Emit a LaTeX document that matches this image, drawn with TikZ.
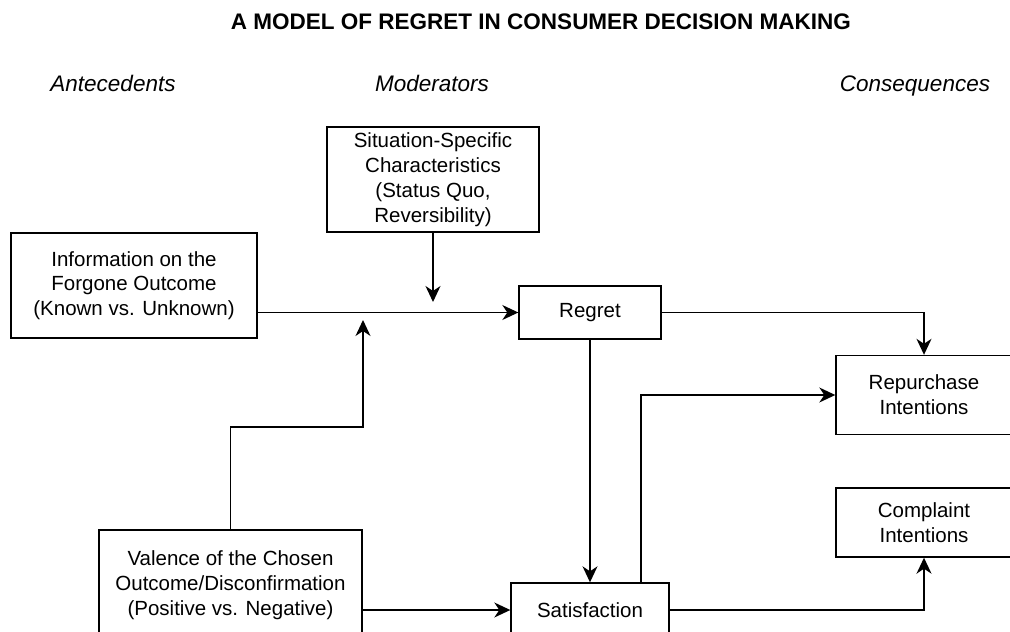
\documentclass[tikz,border=0pt]{standalone}
\usepackage{fontspec}
\setmainfont{Liberation Sans}
\usetikzlibrary{arrows.meta}
\begin{document}
\begin{tikzpicture}[x=1pt,y=-1pt,
  box/.style={draw, line width=1.4pt, inner sep=0pt, align=center,
    font=\fontsize{20.5}{24.8}\selectfont},
  link/.style={line width=1.5pt, -{Stealth[length=16pt,width=15pt,inset=5pt]}},
  head/.style={anchor=base, font=\fontsize{22.5}{27}\selectfont\itshape},
  title/.style={font=\fontsize{22.5}{27}\selectfont\bfseries}]
\clip (0,0) rectangle (1010,632);
\fill[white] (0,0) rectangle (1010,632);

% headings
\node[title] (title) at (541,22) {A MODEL OF REGRET IN CONSUMER DECISION MAKING};
\node[head] (ante) at (113,91) {Antecedents};
\node[head] (mods) at (432,91) {Moderators};
\node[head] (cons) at (915,91) {Consequences};

% boxes
\node[box, minimum width=246pt, minimum height=105pt] (info) at (134,285.5)
  {Information on the\\Forgone Outcome\\(Known vs. Unknown)};
\node[box, minimum width=212pt, minimum height=105pt] (sit) at (433,179.5)
  {Situation-Specific\\Characteristics\\(Status Quo,\\Reversibility)};
\node[box, minimum width=142pt, minimum height=53pt] (regret) at (590,312.5) {Regret};
\node[box, minimum width=176pt, minimum height=79pt] (rep) at (924,395) {Repurchase\\Intentions};
\node[box, minimum width=176pt, minimum height=69pt] (comp) at (924,522.5) {Complaint\\Intentions};
\node[box, minimum width=263pt, minimum height=110pt] (val) at (230.5,585)
  {Valence of the Chosen\\Outcome/Disconfirmation\\(Positive vs. Negative)};
\node[box, minimum width=158pt, minimum height=54pt] (sat) at (590,610) {Satisfaction};

% free ends of the moderating arrows
\coordinate (modtip) at (433,302);
\coordinate (valbend) at (363,427);
\coordinate (valtip) at (363,320);

% connectors
\draw[link] (info.east |- regret.west) -- (regret.west);
\draw[link] (sit.south) -- (modtip);
\draw[link] (val.north) |- (valbend) -- (valtip);
\draw[link] (regret.east) -| (rep.north);
\draw[link] (regret.south) -- (sat.north);
\draw[link] ([xshift=51pt]sat.north) |- (rep.west);
\draw[link] (val.east |- sat.west) -- (sat.west);
\draw[link] (sat.east) -| (comp.south);
\end{tikzpicture}
\end{document}
